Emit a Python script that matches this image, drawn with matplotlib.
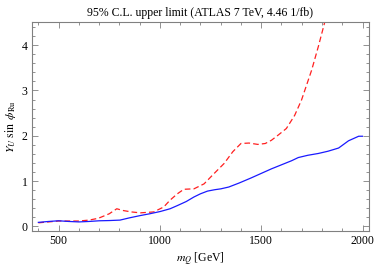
import numpy as np
import matplotlib.pyplot as plt
from matplotlib.ticker import MultipleLocator

plt.rcParams['font.family'] = ['Liberation Serif', 'DejaVu Serif']
plt.rcParams['mathtext.fontset'] = 'stix'

# blue solid curve
m_blue = [400, 450, 500, 550, 600, 650, 700, 750, 803, 850, 903, 950, 1002, 1050, 1086,
          1130, 1168, 1200, 1235, 1270, 1301, 1340, 1392, 1450, 1500, 1550, 1600, 1650,
          1683, 1730, 1782, 1830, 1882, 1931, 1981, 2000]
y_blue = [0.09, 0.11, 0.125, 0.11, 0.10, 0.11, 0.125, 0.13, 0.14, 0.19, 0.24, 0.28, 0.33,
          0.39, 0.46, 0.55, 0.65, 0.72, 0.78, 0.81, 0.83, 0.87, 0.96, 1.07, 1.17, 1.27,
          1.36, 1.45, 1.52, 1.57, 1.61, 1.66, 1.73, 1.89, 1.99, 1.99]

# red dashed curve
m_red = [400, 450, 500, 550, 600, 650, 696, 750, 787, 820, 860, 903, 969, 1019, 1050,
         1086, 1118, 1168, 1218, 1268, 1317, 1360, 1400, 1440, 1483, 1520, 1550, 1585,
         1624, 1665, 1699, 1749, 1782, 1812, 1830]
y_red = [0.08, 0.10, 0.12, 0.12, 0.12, 0.14, 0.18, 0.28, 0.39, 0.35, 0.32, 0.30, 0.32,
         0.43, 0.58, 0.72, 0.82, 0.83, 0.94, 1.17, 1.39, 1.65, 1.83, 1.84, 1.81, 1.83,
         1.90, 2.02, 2.16, 2.45, 2.79, 3.45, 3.97, 4.48, 4.80]

fig = plt.figure(figsize=(3.75, 2.74), dpi=100)
ax = fig.add_axes([0.085, 0.157, 0.899, 0.761])

ax.plot(m_red, y_red, color='#ff2020', lw=0.9, dashes=(4.5, 2.5))
ax.plot(m_blue, y_blue, color='#1a1aff', lw=0.9)

ax.set_xlim(368, 2032)
ax.set_ylim(-0.1, 4.5)
ax.xaxis.set_major_locator(MultipleLocator(500))
ax.xaxis.set_minor_locator(MultipleLocator(100))
ax.yaxis.set_major_locator(MultipleLocator(1))
ax.yaxis.set_minor_locator(MultipleLocator(0.2))

for s in ax.spines.values():
    s.set_color('#808080')
    s.set_linewidth(0.8)
ax.tick_params(which='both', direction='in', top=True, right=True,
               color='#808080', labelsize=8.5, pad=3)
ax.tick_params(which='major', length=4, width=0.6)
ax.tick_params(which='minor', length=2, width=0.6)

ax.set_title('95% C.L. upper limit (ATLAS 7 TeV, 4.46 1/fb)', fontsize=8.5, pad=5)
ax.set_xlabel(r'$m_Q$ [GeV]', fontsize=8.5, labelpad=3)
ax.set_ylabel(r'$Y_U\ \sin\ \phi_{\mathrm{Ru}}$', fontsize=8.5, labelpad=3)

fig.savefig('out.png', dpi=100)
